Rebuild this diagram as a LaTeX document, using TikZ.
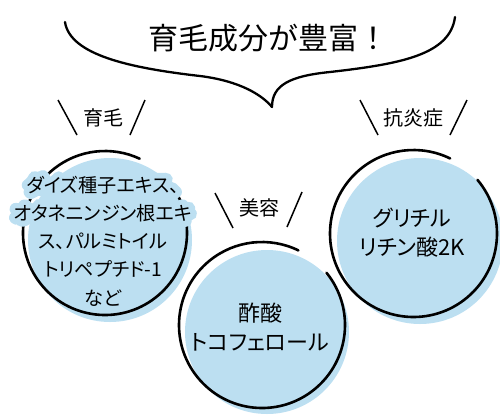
\documentclass[tikz,border=0pt]{standalone}
\usepackage{fontspec}
\setmainfont{Noto Sans CJK JP}
\newfontfamily\jpp[RawFeature=+palt]{Noto Sans CJK JP}
\newfontfamily\jphalo[RawFeature=+palt,FakeBold=60]{Noto Sans CJK JP}
\definecolor{cblue}{RGB}{188,223,241}
\tikzset{
  bluedisc/.style={fill=cblue, draw=none},
  ring/.style={draw=black, line width=2.6pt, line cap=round},
  tick/.style={draw=black, line width=1.5pt},
  brace/.style={draw=black, line width=2.3pt, line cap=round, line join=round},
  label/.style={font=\fontsize{20}{22}\selectfont, inner sep=0pt},
  body/.style={font={\jpp\fontsize{22}{29}\selectfont\lineskiplimit=-100pt}, align=center, inner sep=0pt},
  leftbody/.style={font={\jpp\fontsize{19.2}{28.3}\selectfont\lineskiplimit=-100pt}, align=center, inner sep=0pt},
  lefthalo/.style={font={\jphalo\fontsize{19.2}{28.3}\selectfont\lineskiplimit=-100pt}, align=center, inner sep=0pt, text=cblue},
}
\begin{document}
\begin{tikzpicture}[x=1pt,y=-1pt]
\useasboundingbox (0,0) rectangle (500,416);
% circle centres
\coordinate (cL) at (105,233);
\coordinate (cM) at (262,325);
\coordinate (cR) at (413.5,233.5);
% blue discs
\fill[bluedisc] (110,240) circle[radius=82];
\fill[bluedisc] (267,332) circle[radius=82];
\fill[bluedisc] (420,241) circle[radius=83];
% black rings with a gap at upper right
\draw[ring] (cL) ++(-38:82) arc[start angle=-38, end angle=295, radius=82];
\draw[ring] (cM) ++(-39:83) arc[start angle=-39, end angle=296, radius=83];
\draw[ring] (cR) ++(-40:83.5) arc[start angle=-40, end angle=296, radius=83.5];
% brace
\draw[brace] (65,22) .. controls (70,55) and (130,68) .. (200,76)
  .. controls (240,81) and (262,95) .. (272,107)
  .. controls (272,85) and (290,76) .. (330,72)
  .. controls (400,64) and (450,55) .. (455,17);
% title
\node[font=\fontsize{30}{31}\selectfont, inner sep=0pt] (title) at (268,38) {育毛成分が豊富！};
% labels with ticks
\node[label] (l1) at (103.5,118) {育毛};
\draw[tick] (58,100) -- (77,135);
\draw[tick] (145,100) -- (130,135);
\node[label] (l2) at (259,208) {美容};
\draw[tick] (215,193) -- (233,228);
\draw[tick] (302,192) -- (287,227);
\node[label] (l3) at (413.5,118) {抗炎症};
\draw[tick] (360,100) -- (378,135);
\draw[tick] (467,100) -- (450,135);
% circle texts (blue halo behind the two widest lines)
\node[lefthalo] (tLh) at (103,241) {%
\special{pdf:literal direct 1 j 1 J}%
ダイズ種子エキス、\\
オタネニンジン根エキ\\
\phantom{ス、パルミトイル}\\
\phantom{トリペプチド-1}\\
\phantom{など}};
\node[leftbody] (tL) at (103,241) {%
ダイズ種子エキス、\\
オタネニンジン根エキ\\
ス、パルミトイル\\
トリペプチド-1\\
など};
\node[body] (tM) at (260,327) {酢酸\\トコフェロール};
\node[body] (tR) at (412,233) {グリチル\\リチン酸2K};
\end{tikzpicture}
\end{document}
